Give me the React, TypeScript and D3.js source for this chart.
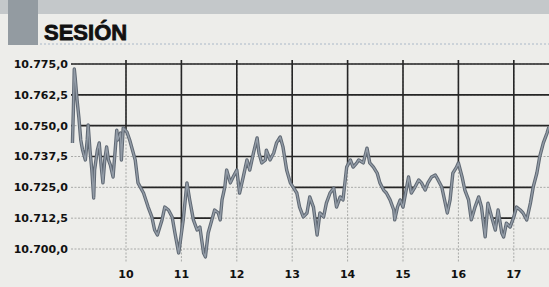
import * as d3 from "d3";
import { useEffect, useRef } from "react";

// minutes after 9:00 and index level
const minutes = [
  2, 3, 4, 5, 7, 9, 11, 13, 16, 18, 19, 21, 23, 25, 26, 29, 31, 33, 35, 37, 39, 41, 43, 46, 50, 51, 54, 55, 57, 61,
  64, 70, 73, 79, 84, 88, 91, 94, 99, 102, 106, 110, 113, 117, 118, 122, 126, 129, 133, 137, 140, 144, 146, 149, 153,
  156, 160, 162, 164, 167, 169, 173, 176, 180, 183, 187, 191, 194, 198, 202, 204, 207, 211, 212, 216, 220, 223, 227,
  230, 234, 238, 241, 245, 248, 252, 256, 259, 263, 267, 270, 274, 277, 281, 285, 288, 292, 295, 299, 303, 306, 310,
  312, 317, 321, 324, 328, 332, 335, 339, 342, 346, 350, 351, 354, 357, 360, 364, 366, 369, 373, 377, 380, 384, 387,
  391, 395, 398, 402, 405, 408, 411, 414, 418, 420, 424, 427, 431, 434, 438, 442, 445, 449, 452, 456, 460, 463, 467,
  469, 472, 476, 480, 483, 487, 490, 494, 498, 501, 505, 508, 512, 516, 518,
];
const values = [
  10743.0, 10756.4, 10773.0, 10769.3, 10760.4, 10753.1, 10744.2, 10740.1, 10736.1, 10744.2, 10750.3, 10740.1, 10732.0,
  10720.7, 10732.0, 10740.1, 10743.0, 10734.1, 10726.8, 10736.1, 10741.4, 10736.1, 10734.1, 10729.2, 10748.2, 10744.2,
  10747.0, 10736.1, 10749.1, 10747.4, 10744.2, 10736.1, 10726.8, 10722.7, 10717.0, 10713.0, 10707.7, 10705.7, 10711.8,
  10717.0, 10715.8, 10713.0, 10706.5, 10698.4, 10700.8, 10711.8, 10726.8, 10719.9, 10711.8, 10707.7, 10708.9, 10698.4,
  10696.8, 10706.5, 10711.8, 10715.8, 10714.6, 10711.8, 10719.9, 10725.1, 10732.0, 10726.8, 10729.2, 10732.0, 10722.7,
  10729.2, 10736.1, 10732.0, 10738.9, 10745.0, 10738.9, 10734.9, 10736.1, 10740.1, 10736.1, 10738.9, 10743.0, 10745.4,
  10741.4, 10732.0, 10726.8, 10725.1, 10722.7, 10717.0, 10713.0, 10714.6, 10721.1, 10717.0, 10705.7, 10714.6, 10713.0,
  10718.6, 10722.7, 10724.7, 10717.0, 10721.1, 10719.9, 10733.2, 10736.1, 10733.2, 10734.9, 10736.1, 10734.9, 10740.9,
  10734.9, 10733.2, 10730.8, 10726.8, 10723.9, 10722.7, 10719.9, 10715.8, 10711.8, 10717.0, 10719.9, 10717.0, 10725.1,
  10729.2, 10722.7, 10725.1, 10728.0, 10726.8, 10723.9, 10726.8, 10729.2, 10730.0, 10728.0, 10725.1, 10719.9, 10714.6,
  10719.9, 10730.8, 10733.2, 10734.9, 10729.2, 10723.9, 10719.9, 10711.8, 10717.0, 10721.1, 10717.0, 10704.9, 10718.6,
  10713.0, 10707.7, 10715.8, 10706.5, 10704.9, 10710.5, 10708.9, 10713.0, 10717.0, 10715.8, 10714.6, 10711.8, 10718.6,
  10725.1, 10730.8, 10737.3, 10743.0, 10747.0, 10749.5,
];
const yTicks = [10700, 10712.5, 10725, 10737.5, 10750, 10762.5, 10775];
const hourTicks = [10, 11, 12, 13, 14, 15, 16, 17];

const W = 549;
const H = 287;

const es = d3.formatLocale({ decimal: ",", thousands: ".", grouping: [3], currency: ["", " €"] });
const fmt = es.format(",.1f");

export default function App() {
  const ref = useRef<SVGSVGElement>(null);

  useEffect(() => {
    const svg = d3.select(ref.current);
    svg.selectAll("*").remove();

    const x = d3.scaleLinear().domain([0, 480]).range([70.6, 513.8]);
    const y = d3.scaleLinear().domain([10700, 10775]).range([249, 64]);
    const data = minutes.map((m, i) => ({ m, v: values[i] }));

    svg.append("rect").attr("width", W).attr("height", H).attr("fill", "#ededea");

    // header
    svg.append("rect").attr("x", 0).attr("y", 0).attr("width", W).attr("height", 14).attr("fill", "#c4c8ca");
    svg.append("rect").attr("x", 8).attr("y", 0).attr("width", 30).attr("height", 45).attr("fill", "#939ba1");
    svg
      .append("line")
      .attr("x1", 40).attr("x2", W).attr("y1", 44).attr("y2", 44)
      .attr("stroke", "#aab8c8").attr("stroke-dasharray", "2,2");
    svg
      .append("text")
      .text("SESIÓN")
      .attr("x", 44).attr("y", 40)
      .attr("font-family", "Liberation Sans, Arial, sans-serif")
      .attr("font-weight", 900)
      .attr("font-size", 22)
      .attr("fill", "#111")
      .attr("stroke", "#111")
      .attr("stroke-width", 0.8);

    const drawGrid = (g: any, color: string, width: number, dash: string | null) => {
      g.selectAll(".h")
        .data(yTicks)
        .join("line")
        .attr("class", "h")
        .attr("x1", 71).attr("x2", W)
        .attr("y1", (d: number) => y(d)).attr("y2", (d: number) => y(d))
        .attr("stroke", color).attr("stroke-width", width).attr("stroke-dasharray", dash);
      g.selectAll(".v")
        .data(hourTicks)
        .join("line")
        .attr("class", "v")
        .attr("x1", (d: number) => x((d - 9) * 60)).attr("x2", (d: number) => x((d - 9) * 60))
        .attr("y1", 60).attr("y2", 263)
        .attr("stroke", color).attr("stroke-width", width).attr("stroke-dasharray", dash);
    };

    drawGrid(svg.append("g"), "#a9aaa8", 1, "2,1.5");

    const above = d3
      .area<{ m: number; v: number }>()
      .x((d) => x(d.m))
      .y0(55)
      .y1((d) => y(d.v));
    const clipData = [{ m: -10, v: values[0] }, ...data, { m: 540, v: values[values.length - 1] }];
    svg.append("clipPath").attr("id", "above").append("path").attr("d", above(clipData) as string);
    drawGrid(svg.append("g").attr("clip-path", "url(#above)"), "#262626", 1.6, null);

    const line = d3
      .line<{ m: number; v: number }>()
      .x((d) => x(d.m))
      .y((d) => y(d.v));
    svg.append("path").attr("d", line(data) as string).attr("fill", "none")
      .attr("stroke", "#5f6873").attr("stroke-width", 3.4).attr("stroke-linejoin", "round");
    svg.append("path").attr("d", line(data) as string).attr("fill", "none")
      .attr("stroke", "#939ca7").attr("stroke-width", 1.4).attr("stroke-linejoin", "round");

    svg
      .append("g")
      .selectAll("text")
      .data(yTicks)
      .join("text")
      .text((d) => fmt(d))
      .attr("x", 68)
      .attr("y", (d) => y(d))
      .attr("dy", "0.36em")
      .attr("text-anchor", "end")
      .attr("font-family", "DejaVu Sans, sans-serif")
      .attr("font-weight", "bold")
      .attr("font-size", 11)
      .attr("fill", "#111");

    svg
      .append("g")
      .selectAll("text")
      .data(hourTicks)
      .join("text")
      .text((d) => String(d))
      .attr("x", (d) => x((d - 9) * 60))
      .attr("y", 278)
      .attr("text-anchor", "middle")
      .attr("font-family", "DejaVu Sans, sans-serif")
      .attr("font-weight", "bold")
      .attr("font-size", 11)
      .attr("fill", "#111");
  }, []);

  return (
    <svg
      ref={ref}
      width={W}
      height={H}
      style={{ position: "absolute", left: 0, top: 0, display: "block" }}
    />
  );
}
